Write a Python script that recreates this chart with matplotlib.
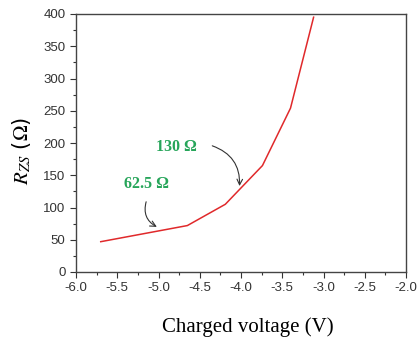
import matplotlib
matplotlib.use("Agg")
import matplotlib.pyplot as plt
from matplotlib.ticker import MultipleLocator

# data
voltage = [-5.70, -4.65, -4.19, -3.74, -3.40, -3.12]
r_zs = [47, 72, 105, 165, 254, 395]

# annotations: (text, text position, arrow start, arrow end, curvature)
notes = [
    ("62.5 Ω", (-5.15, 137), (-5.14, 113), (-4.99, 68), 0.45),
    ("130 Ω", (-4.78, 194), (-4.38, 197), (-4.02, 129), -0.4),
]

plt.rcParams['mathtext.fontset'] = 'stix'

fig = plt.figure(figsize=(4.17, 3.42), dpi=100)
ax = fig.add_axes([76 / 417, 1 - 272 / 342, 330 / 417, 258 / 342])

ax.plot(voltage, r_zs, color='#e0292b', lw=1.1)

for txt, tpos, a0, a1, rad in notes:
    ax.text(tpos[0], tpos[1], txt, color='#27a55a', fontsize=11.5,
            fontweight='bold', family='Liberation Serif',
            ha='center', va='center')
    ax.annotate('', xy=a1, xytext=a0,
                arrowprops=dict(arrowstyle='->', color='#333333', lw=0.8,
                                connectionstyle=f'arc3,rad={rad}'))

ax.set_xlim(-6.0, -2.0)
ax.set_ylim(0, 400)
ax.xaxis.set_major_locator(MultipleLocator(0.5))
ax.xaxis.set_minor_locator(MultipleLocator(0.25))
ax.yaxis.set_major_locator(MultipleLocator(50))
ax.yaxis.set_minor_locator(MultipleLocator(25))
ax.xaxis.set_major_formatter(plt.FuncFormatter(lambda v, p: f"{v:.1f}"))

ax.tick_params(which='major', direction='out', length=4, width=0.8,
               labelsize=9.5, colors='#333333')
ax.tick_params(which='minor', direction='out', length=2, width=0.8,
               colors='#333333')
for lab in ax.get_xticklabels() + ax.get_yticklabels():
    lab.set_family('Liberation Sans')
for s in ax.spines.values():
    s.set_color('#444444')
    s.set_linewidth(1.0)

ax.set_xlabel('Charged voltage (V)', family='Liberation Serif', fontsize=15)
ax.xaxis.set_label_coords(0.52, -0.175)
ax.set_ylabel(r'$R_{ZS}$ ($\Omega$)', fontsize=15)
ax.yaxis.set_label_coords(-0.13, 0.47)

fig.savefig('out.png', dpi=100)
